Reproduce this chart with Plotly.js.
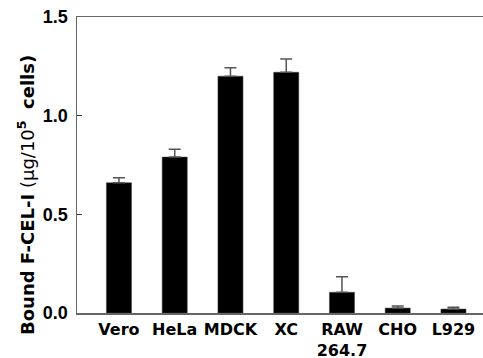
<!DOCTYPE html>
<html><head><meta charset="utf-8">
<script src="https://cdn.plot.ly/plotly-3.0.1.min.js"></script>
<style>html,body{margin:0;padding:0;background:#fff}#c{width:483px;height:358px}</style>
</head><body><div id="c"></div>
<script>
const categories = ["Vero","HeLa","MDCK","XC","RAW<br>264.7","CHO","L929"];
const values = [0.66, 0.79, 1.20, 1.22, 0.105, 0.025, 0.02];
const errors = [0.026, 0.04, 0.043, 0.067, 0.079, 0.01, 0.009];
const yTicks = [0, 0.5, 1.0, 1.5];
const yTickText = ["0.0","0.5","1.0","1.5"];
const yTitle = "<b>Bound F-CEL-I</b> (μg/10<sup><b>5</b></sup>  <b>cells)</b>";

const wide = "DejaVu Sans, sans-serif";
const narrow = "Liberation Sans, Arial, sans-serif";
Plotly.newPlot("c", [{
  type:"bar",
  x: categories.map((c,i)=>i),
  y: values,
  width: 0.45,
  marker:{color:"#000", line:{color:"#444", width:0.5}},
  error_y:{type:"data", array:errors, symmetric:false, arrayminus:errors.map(()=>0), color:"#555", thickness:1.5, width:6}
}], {
  width:483, height:358,
  margin:{l:77, r:0, t:17, b:45},
  paper_bgcolor:"#fff", plot_bgcolor:"#fff",
  showlegend:false,
  font: {family:narrow, size:16, color:"#000"},
  xaxis:{
    range:[-0.753, 6.53],
    tickmode:"array", tickvals: categories.map((c,i)=>i), ticktext: categories,
    ticks:"", showline:true, linecolor:"#666", linewidth:1.5, mirror:true,
    showgrid:false, zeroline:false,
    tickfont:{family:wide, size:16, color:"#000", weight:"bold"},
    ticklabelstandoff:1
  },
  yaxis:{
    range:[0,1.5], tickmode:"array", tickvals:yTicks, ticktext:yTickText,
    ticks:"inside", ticklen:5, tickcolor:"#333", tickwidth:1,
    showline:true, linecolor:"#666", linewidth:1.5,
    showgrid:false, zeroline:false,
    tickfont:{family:narrow, size:18, color:"#000", weight:"bold"},
    ticklabelstandoff:4
  },
  annotations:[{
    text: yTitle, textangle:-90, showarrow:false,
    xref:"paper", yref:"paper", x:(26-77)/406, y:(313-337)/296,
    xanchor:"center", yanchor:"bottom",
    font:{family:wide, size:18, color:"#000"}
  }]
}, {displayModeBar:false, staticPlot:true});
</script></body></html>
